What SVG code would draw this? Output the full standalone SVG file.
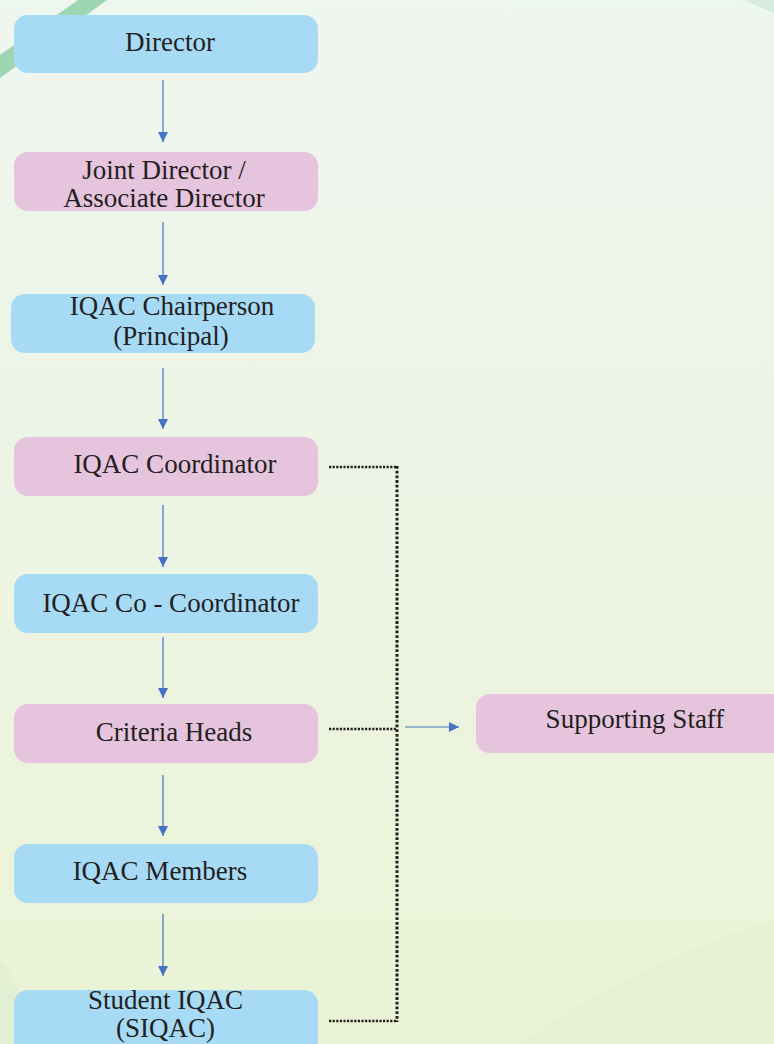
<svg xmlns="http://www.w3.org/2000/svg" width="774" height="1044" viewBox="0 0 774 1044">
<defs>
<linearGradient id="bg" x1="0" y1="0" x2="0" y2="1">
<stop offset="0" stop-color="#eef6f0"/>
<stop offset="0.5" stop-color="#ecf4e4"/>
<stop offset="1" stop-color="#ebf3d6"/>
</linearGradient>
<marker id="ah" viewBox="0 0 10 10" refX="10" refY="5" markerWidth="10" markerHeight="10" markerUnits="userSpaceOnUse" orient="auto">
<path d="M0,0 L10,5 L0,10 Z" fill="#4472c4"/>
</marker>
<style>
.blue{fill:#a6daf5}
.pink{fill:#e6c4de}
.lbl{font-family:"Liberation Serif","Times New Roman",serif;font-size:27px;fill:#231f20;text-anchor:middle}
.arr{stroke:#4472c4;stroke-width:1.2;fill:none;marker-end:url(#ah)}
.dotv{stroke:#231f20;stroke-width:3;fill:none;stroke-dasharray:2.8 1.9}
.doth{stroke:#231f20;stroke-width:2.6;fill:none;stroke-dasharray:2.2 1.4}
</style>
</defs>
<g id="background">
<rect width="774" height="1044" fill="url(#bg)"/>
<path d="M0,55 L78,0 L107,0 L0,78 Z" fill="#9ed5b3"/>
<path d="M743,0 L774,0 L774,13 Z" fill="#d6ece0"/>
<path d="M0,960 Q20,985 40,1044 L0,1044 Z" fill="#e3efd2"/>
<path d="M520,1044 Q640,960 774,920 L774,1044 Z" fill="#e5f0cf" opacity="0.6"/>
</g>
<g id="connectors">
<line class="arr" x1="163" y1="80" x2="163" y2="142"/>
<line class="arr" x1="163" y1="222" x2="163" y2="285"/>
<line class="arr" x1="163" y1="368" x2="163" y2="429"/>
<line class="arr" x1="163" y1="505" x2="163" y2="567"/>
<line class="arr" x1="163" y1="637" x2="163" y2="698"/>
<line class="arr" x1="163" y1="775" x2="163" y2="836"/>
<line class="arr" x1="163" y1="914" x2="163" y2="976"/>
<path class="doth" d="M329,467 H397"/>
<path class="dotv" d="M397,466 V1022"/>
<path class="doth" d="M329,1021 H397"/>
<path class="doth" d="M329,729 H397"/>
<line class="arr" x1="405" y1="727" x2="459" y2="727"/>
</g>
<g id="director">
<rect class="blue" x="14" y="15" width="304" height="58" rx="14"/>
<text class="lbl" x="170" y="51">Director</text>
</g>
<g id="joint-director">
<rect class="pink" x="14" y="152" width="304" height="59" rx="14"/>
<text class="lbl" x="164" y="179">Joint Director /</text>
<text class="lbl" x="164" y="207">Associate Director</text>
</g>
<g id="chairperson">
<rect class="blue" x="11" y="294" width="304" height="59" rx="14"/>
<text class="lbl" x="172" y="315">IQAC Chairperson</text>
<text class="lbl" x="171" y="345">(Principal)</text>
</g>
<g id="coordinator">
<rect class="pink" x="14" y="437" width="304" height="59" rx="14"/>
<text class="lbl" x="175" y="473">IQAC Coordinator</text>
</g>
<g id="co-coordinator">
<rect class="blue" x="14" y="574" width="304" height="59" rx="14"/>
<text class="lbl" x="171" y="612">IQAC Co - Coordinator</text>
</g>
<g id="criteria-heads">
<rect class="pink" x="14" y="704" width="304" height="59" rx="14"/>
<text class="lbl" x="174" y="741">Criteria Heads</text>
</g>
<g id="members">
<rect class="blue" x="14" y="844" width="304" height="59" rx="14"/>
<text class="lbl" x="160" y="880">IQAC Members</text>
</g>
<g id="student-iqac">
<rect class="blue" x="14" y="990" width="304" height="70" rx="14"/>
<text class="lbl" x="165.5" y="1009">Student IQAC</text>
<text class="lbl" x="165.5" y="1037">(SIQAC)</text>
</g>
<g id="supporting-staff">
<rect class="pink" x="476" y="694" width="314" height="59" rx="14"/>
<text class="lbl" x="635" y="728">Supporting Staff</text>
</g>
</svg>
